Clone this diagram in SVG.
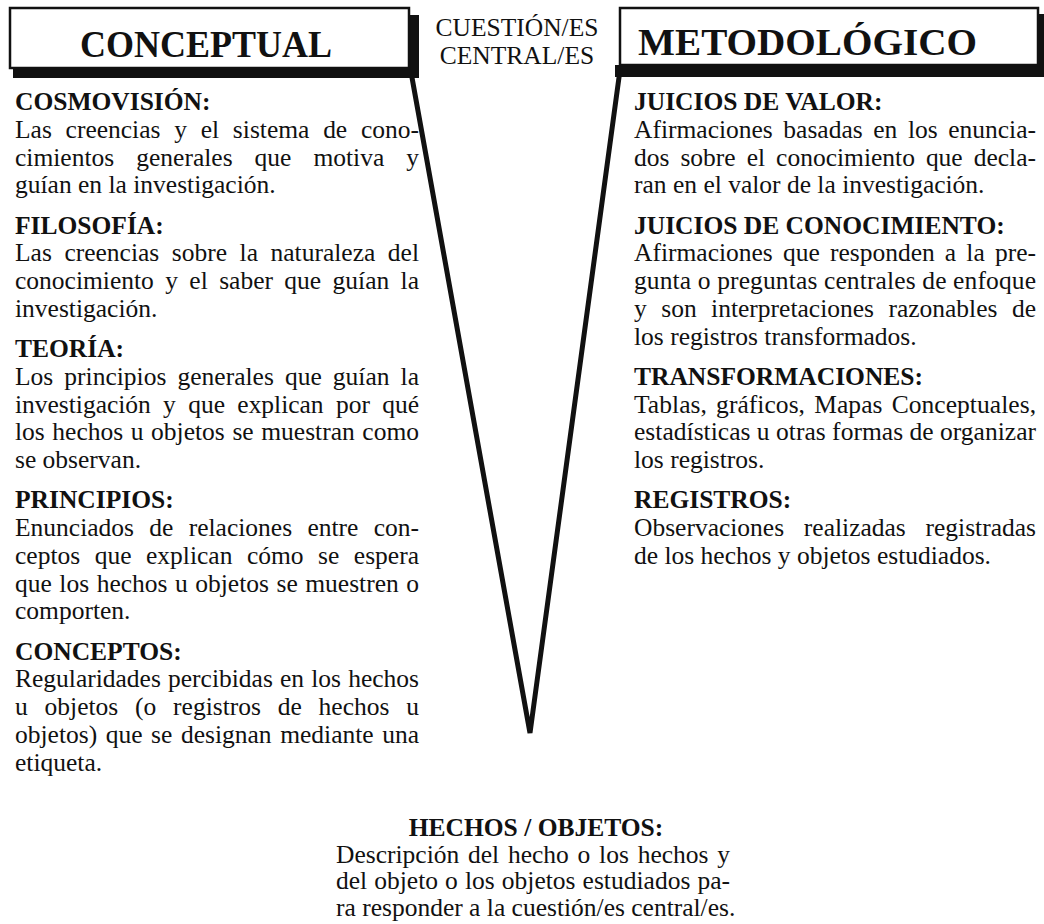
<svg xmlns="http://www.w3.org/2000/svg" width="1044" height="924" viewBox="0 0 1044 924">
<style>
text { font-family: "Liberation Serif", "Times New Roman", serif; font-size: 25.5px; fill: #111; }
.h { font-weight: bold; }
.title { font-weight: bold; font-size: 38px; }
.box { fill: #fff; stroke: #111; stroke-width: 2.5; }
.shadow { fill: #111; }
.v { fill: none; stroke: #111; stroke-width: 5; stroke-linejoin: miter; stroke-linecap: round; }
</style>
<rect width="1044" height="924" fill="#fff"/>
<g id="connectors">
  <polyline class="v" points="411,72 530,733 620,70"/>
</g>
<g id="conceptual">
  <polygon class="shadow" points="409,15 419,15 419,78 13,78 13,68 409,68"/>
  <rect class="box" x="10" y="8" width="399" height="60"/>
  <text class="title" x="80" y="57" textLength="252" lengthAdjust="spacingAndGlyphs">CONCEPTUAL</text>
</g>
<g id="cuestion">
  <text x="517" y="36" text-anchor="middle">CUESTIÓN/ES</text>
  <text x="517" y="64" text-anchor="middle">CENTRAL/ES</text>
</g>
<g id="metodologico">
  <polygon class="shadow" points="1038,14 1044,14 1044,77 615,77 615,65 1038,65"/>
  <rect class="box" x="620" y="8" width="418" height="57"/>
  <text class="title" x="638" y="55" textLength="339" lengthAdjust="spacingAndGlyphs">METODOLÓGICO</text>
</g>
<g id="cosmovision">
  <text class="h" x="15" y="110">COSMOVISIÓN:</text>
  <text x="15" y="137.75" word-spacing="7.4" textLength="404" lengthAdjust="spacing">Las creencias y el sistema de cono-</text>
  <text x="15" y="165.5" word-spacing="15.6" textLength="404" lengthAdjust="spacing">cimientos generales que motiva y</text>
  <text x="15" y="193.25">guían en la investigación.</text>
</g>
<g id="filosofia">
  <text class="h" x="15" y="233.5">FILOSOFÍA:</text>
  <text x="15" y="261.25" word-spacing="6.2" textLength="404" lengthAdjust="spacing">Las creencias sobre la naturaleza del</text>
  <text x="15" y="289" word-spacing="5" textLength="404" lengthAdjust="spacing">conocimiento y el saber que guían la</text>
  <text x="15" y="316.75">investigación.</text>
</g>
<g id="teoria">
  <text class="h" x="15" y="357">TEORÍA:</text>
  <text x="15" y="384.75" word-spacing="4.7" textLength="404" lengthAdjust="spacing">Los principios generales que guían la</text>
  <text x="15" y="412.5" word-spacing="6" textLength="404" lengthAdjust="spacing">investigación y que explican por qué</text>
  <text x="15" y="440.25" word-spacing="1.2" textLength="404" lengthAdjust="spacing">los hechos u objetos se muestran como</text>
  <text x="15" y="468">se observan.</text>
</g>
<g id="principios">
  <text class="h" x="15" y="508.25">PRINCIPIOS:</text>
  <text x="15" y="536" word-spacing="8.9" textLength="404" lengthAdjust="spacing">Enunciados de relaciones entre con-</text>
  <text x="15" y="563.75" word-spacing="8.1" textLength="404" lengthAdjust="spacing">ceptos que explican cómo se espera</text>
  <text x="15" y="591.5" word-spacing="1.2" textLength="404" lengthAdjust="spacing">que los hechos u objetos se muestren o</text>
  <text x="15" y="619.25">comporten.</text>
</g>
<g id="conceptos">
  <text class="h" x="15" y="659.5">CONCEPTOS:</text>
  <text x="15" y="687.25" word-spacing="0.8" textLength="404" lengthAdjust="spacing">Regularidades percibidas en los hechos</text>
  <text x="15" y="715" word-spacing="10.4" textLength="404" lengthAdjust="spacing">u objetos (o registros de hechos u</text>
  <text x="15" y="742.75" word-spacing="2.2" textLength="404" lengthAdjust="spacing">objetos) que se designan mediante una</text>
  <text x="15" y="770.5">etiqueta.</text>
</g>
<g id="juicios-valor">
  <text class="h" x="634" y="110">JUICIOS DE VALOR:</text>
  <text x="634" y="137.75" word-spacing="4.2" textLength="402" lengthAdjust="spacing">Afirmaciones basadas en los enuncia-</text>
  <text x="634" y="165.5" word-spacing="4.6" textLength="402" lengthAdjust="spacing">dos sobre el conocimiento que decla-</text>
  <text x="634" y="193.25">ran en el valor de la investigación.</text>
</g>
<g id="juicios-conocimiento">
  <text class="h" x="634" y="233.5">JUICIOS DE CONOCIMIENTO:</text>
  <text x="634" y="261.25" word-spacing="3.8" textLength="402" lengthAdjust="spacing">Afirmaciones que responden a la pre-</text>
  <text x="634" y="289" textLength="402" lengthAdjust="spacing">gunta o preguntas centrales de enfoque</text>
  <text x="634" y="316.75" word-spacing="8.1" textLength="402" lengthAdjust="spacing">y son interpretaciones razonables de</text>
  <text x="634" y="344.5">los registros transformados.</text>
</g>
<g id="transformaciones">
  <text class="h" x="634" y="384.75">TRANSFORMACIONES:</text>
  <text x="634" y="412.5" word-spacing="2.8" textLength="402" lengthAdjust="spacing">Tablas, gráficos, Mapas Conceptuales,</text>
  <text x="634" y="440.25" textLength="402" lengthAdjust="spacing">estadísticas u otras formas de organizar</text>
  <text x="634" y="468">los registros.</text>
</g>
<g id="registros">
  <text class="h" x="634" y="508.25">REGISTROS:</text>
  <text x="634" y="536" word-spacing="13.4" textLength="402" lengthAdjust="spacing">Observaciones realizadas registradas</text>
  <text x="634" y="563.75">de los hechos y objetos estudiados.</text>
</g>
<g id="hechos-objetos">
  <text class="h" x="536" y="836" text-anchor="middle">HECHOS / OBJETOS:</text>
  <text x="336" y="862.5" word-spacing="2.4" textLength="394" lengthAdjust="spacing">Descripción del hecho o los hechos y</text>
  <text x="336" y="889" word-spacing="0.7" textLength="394" lengthAdjust="spacing">del objeto o los objetos estudiados pa-</text>
  <text x="336" y="915.5">ra responder a la cuestión/es central/es.</text>
</g>
</svg>
